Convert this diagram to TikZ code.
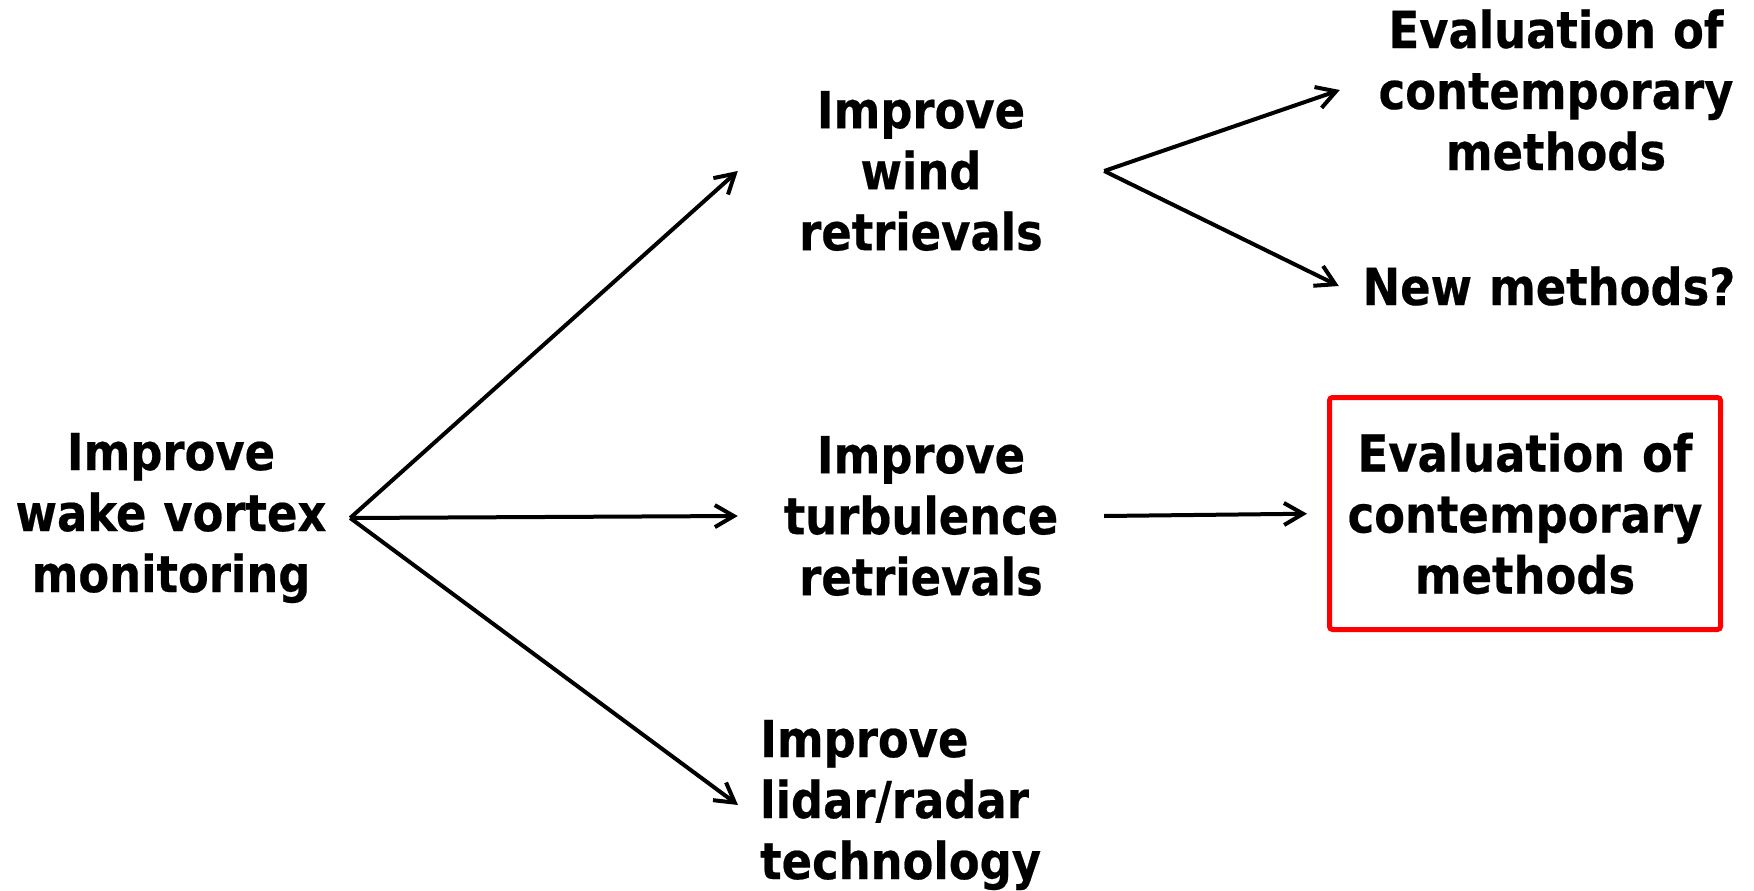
\documentclass[tikz,border=0pt]{standalone}
\usepackage{fontspec}
\setmainfont{DejaVu Sans}[FakeStretch=0.88,FakeBold=0.4]
\usetikzlibrary{arrows.meta}
\begin{document}
\begin{tikzpicture}[x=1pt,y=-1pt,
  lbl/.style={font=\fontsize{51}{61}\selectfont\bfseries, inner sep=0pt, align=center},
  arr/.style={line width=4pt, -{Straight Barb[length=19pt,width=22pt]}}]
\useasboundingbox (0,0) rectangle (1754,891);
\node[lbl, text width=358pt] (wake) at (171,518) {Improve\\wake vortex\\monitoring};
\node[lbl, text width=366pt] (wind) at (921,171) {Improve\\wind\\retrievals};
\node[lbl, text width=366pt] (turb) at (921,516) {Improve\\turbulence\\retrievals};
\node[lbl, text width=300pt, align=left, inner xsep=22pt, anchor=west] (lidar) at (738,805) {Improve\\lidar/radar\\technology};
\node[lbl, text width=432pt] (evalA) at (1556,90) {Evaluation of\\contemporary\\methods};
\node[lbl, text width=420pt] (newm) at (1549,286) {New methods?};
\node[lbl, draw=red, line width=5pt, rounded corners=3pt, minimum width=391pt, minimum height=232pt, text width=380pt] (evalB) at (1525,513.5) {Evaluation of\\contemporary\\methods};
\draw[arr] (wake.east) -- (wind.west);
\draw[arr] (wake.east) -- (turb.west);
\draw[arr] (wake.east) -- (lidar.west);
\draw[arr] (wind.east) -- (evalA.west);
\draw[arr] (wind.east) -- (newm.west);
\draw[arr, shorten >=20pt] (turb.east) -- (evalB.west);
\end{tikzpicture}
\end{document}
